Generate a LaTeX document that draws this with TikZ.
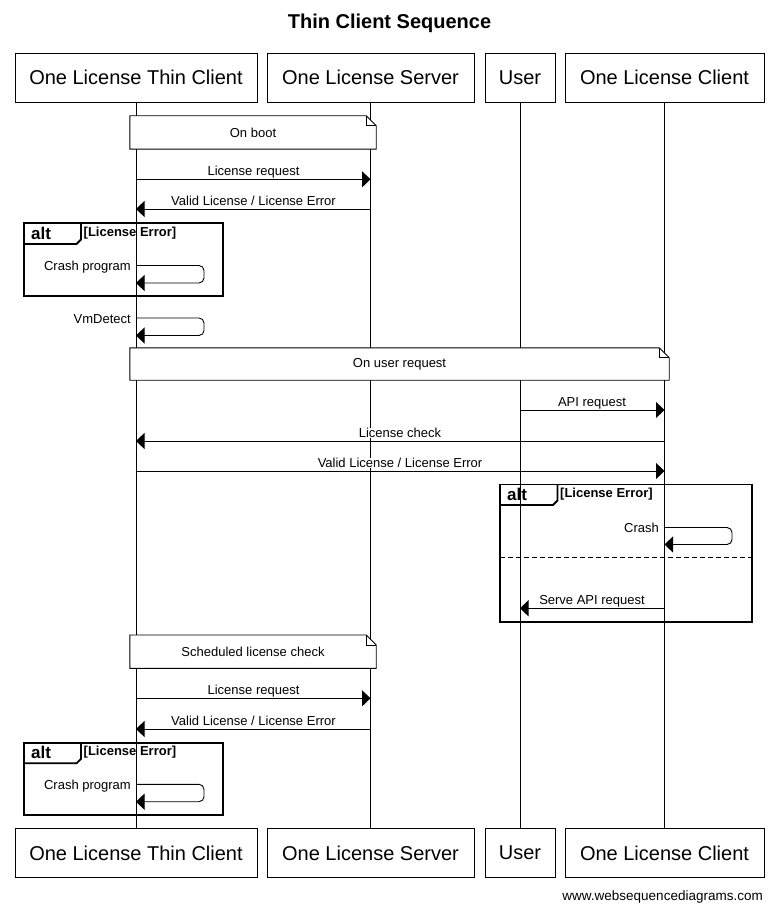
\documentclass[tikz,border=0pt]{standalone}
\usepackage{fontspec}
\setmainfont{Liberation Sans}
\usetikzlibrary{arrows.meta}
\begin{document}
\begin{tikzpicture}[x=1pt,y=-1pt,
  actor/.style={draw, line width=0.9pt, fill=white, minimum height=49pt, inner sep=0pt, font=\fontsize{20}{24}\selectfont},
  life/.style={line width=0.9pt},
  msg/.style={line width=0.9pt, -{Triangle[length=8.5pt,width=16pt]}},
  lbl/.style={fill=white, inner sep=0.3pt, anchor=base, font=\fontsize{13}{15}\selectfont},
  slbl/.style={inner sep=0pt, anchor=base east, font=\fontsize{13}{15}\selectfont},
  notebox/.style={inner sep=0pt, font=\fontsize{13}{15}\selectfont},
  notepath/.style={draw, fill=white, line width=0.9pt},
  altframe/.style={draw, line width=1.8pt},
  alttxt/.style={inner sep=0pt, anchor=base west, font=\fontsize{17}{19}\bfseries\selectfont},
  guard/.style={inner sep=0pt, anchor=base west, font=\fontsize{13}{15}\bfseries\selectfont},
]
\useasboundingbox[fill=white] (0,0) rectangle (779,912);

% title
\node[inner sep=0pt, anchor=base, font=\fontsize{20}{24}\bfseries\selectfont] (title) at (389.5,28.5) {Thin Client Sequence};

% participants
\node[actor, minimum width=242pt] (tc) at (136,77.5) {One License Thin Client};
\node[actor, minimum width=207pt] (sv) at (370.5,77.5) {One License Server};
\node[actor, minimum width=70pt] (us) at (520,77.5) {User};
\node[actor, minimum width=199pt] (cl) at (664.5,77.5) {One License Client};
\node[actor, minimum width=242pt] (tcb) at (136,853) {One License Thin Client};
\node[actor, minimum width=207pt] (svb) at (370.5,853) {One License Server};
\node[actor, minimum width=70pt] (usb) at (520,853) {User};
\node[actor, minimum width=199pt] (clb) at (664.5,853) {One License Client};

% lifelines
\draw[life] (tc.south) -- (tcb.north);
\draw[life] (sv.south) -- (svb.north);
\draw[life] (us.south) -- (usb.north);
\draw[life] (cl.south) -- (clb.north);

% note: On boot
\node[notebox, minimum width=246pt, minimum height=33pt] (n1) at (253,132.5) {};
\draw[notepath] (n1.north west) -- ([xshift=-10pt]n1.north east) -- ([yshift=-10pt]n1.north east) -- (n1.south east) -- (n1.south west) -- cycle;
\draw[line width=0.7pt] ([xshift=-10pt]n1.north east) -- ([xshift=-10pt,yshift=-10pt]n1.north east) -- ([yshift=-10pt]n1.north east);
\node[notebox] (n1t) at (n1.center) {On boot};

% messages 1
\coordinate (m1a) at (136,179.3); \coordinate (m1b) at (370.5,179.3);
\draw[msg] (m1a) -- (m1b);
\node[lbl] (m1l) at (253.5,175.8) {License request};
\coordinate (m2a) at (370.5,209); \coordinate (m2b) at (136,209);
\draw[msg] (m2a) -- (m2b);
\node[lbl] (m2l) at (253.5,205.5) {Valid License / License Error};

% alt 1
\draw[altframe] (24,223) rectangle (223,296);
\draw[altframe] (24,244) -- (76.5,244) -- (81,239.5) -- (81,223);
\node[alttxt] (a1t) at (31,239) {alt};
\node[guard] (a1g) at (83.5,236) {[License Error]};
\coordinate (s1a) at (136,265.5); \coordinate (s1b) at (136,283);
\draw[msg, rounded corners=5pt] (s1a) -- (204,265.5) -- (204,283) -- (s1b);
\node[slbl] (s1l) at (131,270.5) {Crash program};

% VmDetect
\coordinate (s2a) at (136,318); \coordinate (s2b) at (136,335.5);
\draw[msg, rounded corners=5pt] (s2a) -- (204,318) -- (204,335.5) -- (s2b);
\node[slbl] (s2l) at (131,323) {VmDetect};

% note: On user request
\node[notebox, minimum width=539pt, minimum height=32pt] (n2) at (399.5,364) {};
\draw[notepath] (n2.north west) -- ([xshift=-10pt]n2.north east) -- ([yshift=-10pt]n2.north east) -- (n2.south east) -- (n2.south west) -- cycle;
\draw[line width=0.7pt] ([xshift=-10pt]n2.north east) -- ([xshift=-10pt,yshift=-10pt]n2.north east) -- ([yshift=-10pt]n2.north east);
\node[notebox] (n2t) at (n2.center) {On user request};

% messages 2
\coordinate (m3a) at (520,410); \coordinate (m3b) at (664.5,410);
\draw[msg] (m3a) -- (m3b);
\node[lbl] (m3l) at (592,406.5) {API request};
\coordinate (m4a) at (664.5,441); \coordinate (m4b) at (136,441);
\draw[msg] (m4a) -- (m4b);
\node[lbl] (m4l) at (400,437.5) {License check};
\coordinate (m5a) at (136,471); \coordinate (m5b) at (664.5,471);
\draw[msg] (m5a) -- (m5b);
\node[lbl] (m5l) at (400,467.5) {Valid License / License Error};

% alt 2
\draw[altframe] (500,484.5) rectangle (752,622);
\draw[altframe] (500,505) -- (553,505) -- (557.5,500.5) -- (557.5,484.5);
\node[alttxt] (a2t) at (507,500.5) {alt};
\node[guard] (a2g) at (560,497.5) {[License Error]};
\draw[line width=1.8pt, dash pattern=on 5pt off 3pt] (500,557.5) -- (752,557.5);
\coordinate (s3a) at (664.5,527.5); \coordinate (s3b) at (664.5,544.5);
\draw[msg, rounded corners=5pt] (s3a) -- (732,527.5) -- (732,544.5) -- (s3b);
\node[slbl] (s3l) at (659,532) {Crash};
\coordinate (m6a) at (664.5,608.3); \coordinate (m6b) at (520,608.3);
\draw[msg] (m6a) -- (m6b);
\node[lbl] (m6l) at (592,604.8) {Serve API request};

% note: Scheduled license check
\node[notebox, minimum width=246pt, minimum height=33pt] (n3) at (253,651.7) {};
\draw[notepath] (n3.north west) -- ([xshift=-10pt]n3.north east) -- ([yshift=-10pt]n3.north east) -- (n3.south east) -- (n3.south west) -- cycle;
\draw[line width=0.7pt] ([xshift=-10pt]n3.north east) -- ([xshift=-10pt,yshift=-10pt]n3.north east) -- ([yshift=-10pt]n3.north east);
\node[notebox] (n3t) at (n3.center) {Scheduled license check};

% messages 3
\coordinate (m7a) at (136,698.3); \coordinate (m7b) at (370.5,698.3);
\draw[msg] (m7a) -- (m7b);
\node[lbl] (m7l) at (253.5,694.8) {License request};
\coordinate (m8a) at (370.5,729); \coordinate (m8b) at (136,729);
\draw[msg] (m8a) -- (m8b);
\node[lbl] (m8l) at (253.5,725.5) {Valid License / License Error};

% alt 3
\draw[altframe] (24,742.7) rectangle (223,815);
\draw[altframe] (24,763.3) -- (76.5,763.3) -- (81,758.8) -- (81,742.7);
\node[alttxt] (a3t) at (31,758.5) {alt};
\node[guard] (a3g) at (83.5,755.5) {[License Error]};
\coordinate (s4a) at (136,784.3); \coordinate (s4b) at (136,801.7);
\draw[msg, rounded corners=5pt] (s4a) -- (204,784.3) -- (204,801.7) -- (s4b);
\node[slbl] (s4l) at (131,789.3) {Crash program};

% footer
\node[inner sep=0pt, anchor=base east, font=\fontsize{13.5}{15}\selectfont] (foot) at (763,900) {www.websequencediagrams.com};
\end{tikzpicture}
\end{document}
